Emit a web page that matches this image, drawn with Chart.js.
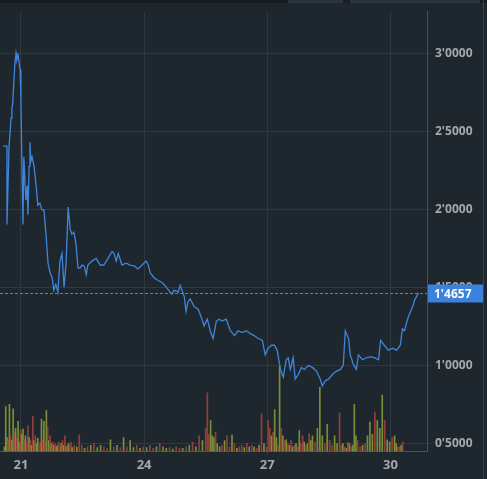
<!DOCTYPE html>
<html><head><meta charset="utf-8">
<script src="https://cdn.jsdelivr.net/npm/chart.js@4"></script>
<style>html,body{margin:0;padding:0;background:#1f272e;}#w{width:487px;height:479px;position:relative}</style>
</head><body><div id="w"><canvas id="c" width="487" height="479"></canvas></div>
<script>
const priceDays=[20.56,20.66,20.66,20.71,20.76,20.78,20.80,20.83,20.85,20.88,20.90,20.93,20.98,21.00,21.02,21.05,21.07,21.12,21.15,21.17,21.20,21.22,21.24,21.27,21.32,21.37,21.41,21.46,21.51,21.56,21.61,21.66,21.71,21.76,21.80,21.85,21.90,21.95,22.00,22.05,22.10,22.15,22.20,22.24,22.29,22.34,22.39,22.44,22.49,22.54,22.59,22.63,22.73,22.83,22.93,23.02,23.12,23.22,23.27,23.32,23.37,23.46,23.56,23.66,23.76,23.85,23.95,24.05,24.10,24.15,24.24,24.34,24.44,24.54,24.63,24.68,24.73,24.83,24.88,24.98,25.02,25.07,25.12,25.22,25.32,25.41,25.46,25.54,25.61,25.68,25.76,25.83,25.90,26.00,26.10,26.20,26.29,26.39,26.49,26.59,26.68,26.78,26.88,26.95,27.02,27.10,27.17,27.24,27.32,27.39,27.46,27.51,27.56,27.63,27.68,27.76,27.83,27.90,28.00,28.10,28.20,28.29,28.34,28.41,28.49,28.59,28.68,28.78,28.85,28.90,28.98,29.02,29.10,29.17,29.22,29.32,29.41,29.51,29.61,29.71,29.76,29.85,29.95,30.05,30.15,30.24,30.29,30.34,30.39,30.44,30.49,30.54,30.59,30.63,30.68];
const priceValues=[2.406,2.406,1.904,2.399,2.585,2.647,2.678,2.833,2.926,3.0,2.957,2.988,2.895,2.709,2.337,1.904,2.337,2.059,2.152,1.966,2.276,2.430,2.307,2.337,2.276,2.152,2.028,2.040,1.997,1.997,1.842,1.656,1.594,1.563,1.483,1.520,1.471,1.669,1.718,1.502,1.656,2.015,1.873,1.842,1.854,1.780,1.625,1.625,1.644,1.638,1.582,1.644,1.669,1.687,1.644,1.644,1.687,1.731,1.718,1.669,1.718,1.644,1.656,1.644,1.638,1.619,1.644,1.669,1.644,1.594,1.563,1.545,1.532,1.502,1.471,1.458,1.483,1.471,1.514,1.440,1.347,1.409,1.427,1.378,1.359,1.297,1.254,1.297,1.223,1.173,1.285,1.297,1.285,1.297,1.223,1.192,1.223,1.211,1.223,1.204,1.192,1.173,1.161,1.068,1.111,1.130,1.130,1.099,0.975,0.926,1.037,1.050,0.975,1.050,0.913,0.944,0.988,0.975,1.0,0.988,0.963,0.913,0.870,0.901,0.913,0.944,0.963,0.975,1.0,1.223,1.173,1.068,1.006,0.975,1.068,1.037,1.050,1.056,1.050,1.037,1.161,1.130,1.099,1.111,1.099,1.130,1.235,1.223,1.272,1.316,1.347,1.378,1.421,1.440,1.4657];
const volDays=[20.60,20.63,20.66,20.69,20.72,20.75,20.78,20.81,20.84,20.87,20.90,20.93,20.96,20.99,21.02,21.05,21.08,21.11,21.14,21.17,21.20,21.23,21.26,21.29,21.32,21.35,21.38,21.41,21.44,21.47,21.50,21.53,21.56,21.59,21.62,21.65,21.68,21.71,21.74,21.77,21.80,21.83,21.86,21.89,21.92,21.95,21.98,22.01,22.04,22.07,22.10,22.13,22.16,22.19,22.22,22.25,22.30,22.36,22.42,22.48,22.55,22.62,22.70,22.78,22.86,22.94,23.02,23.10,23.18,23.26,23.34,23.42,23.50,23.58,23.66,23.74,23.82,23.90,23.98,24.06,24.14,24.22,24.30,24.38,24.46,24.54,24.62,24.70,24.78,24.86,24.94,25.02,25.10,25.18,25.26,25.34,25.42,25.50,25.54,25.58,25.62,25.66,25.70,25.74,25.78,25.84,25.90,25.96,26.02,26.08,26.14,26.20,26.26,26.32,26.38,26.44,26.50,26.56,26.62,26.68,26.74,26.80,26.86,26.92,26.98,27.02,27.06,27.10,27.14,27.18,27.22,27.26,27.30,27.34,27.38,27.42,27.46,27.50,27.54,27.58,27.62,27.66,27.70,27.74,27.78,27.82,27.86,27.90,27.94,27.98,28.02,28.06,28.10,28.16,28.22,28.28,28.34,28.40,28.46,28.52,28.58,28.64,28.70,28.76,28.80,28.84,28.88,28.92,28.96,29.00,29.04,29.08,29.12,29.16,29.20,29.26,29.32,29.38,29.44,29.50,29.56,29.62,29.68,29.74,29.80,29.86,29.92,29.98,30.04,30.10,30.14,30.18,30.22,30.26,30.30,30.34,30.38,30.42,30.46,30.50,30.54,30.58,30.62,30.66];
const volValues=[6,58,18,14,61,20,14,55,24,30,18,39,12,28,22,29,15,20,12,33,18,15,8,45,14,20,10,17,8,12,42,16,39,12,53,32,14,20,10,12,8,10,6,8,12,6,10,14,8,20,6,8,10,6,12,5,8,6,21,8,4,6,8,10,5,8,6,4,15,6,8,5,18,6,14,5,8,4,6,5,8,4,6,10,6,4,5,3,6,4,4,6,8,12,6,20,14,30,76,22,40,20,18,25,10,6,8,14,20,6,21,10,4,6,8,5,10,6,8,6,4,8,49,10,6,40,30,20,25,54,18,8,110,30,20,14,15,10,8,14,6,8,10,6,27,10,20,12,8,10,23,14,20,12,30,83,20,10,35,14,8,20,10,50,8,10,6,4,12,10,6,8,61,20,14,6,8,10,20,38,22,51,40,30,73,40,15,12,18,20,10,6,6,8,12];
const volDir=[1,1,1,-1,1,-1,1,1,-1,1,-1,1,1,-1,1,1,-1,1,-1,-1,1,-1,1,-1,1,-1,1,1,-1,-1,1,-1,1,-1,1,-1,1,-1,1,-1,1,-1,1,1,-1,-1,1,-1,1,-1,1,-1,1,-1,-1,1,-1,1,-1,-1,1,-1,1,-1,1,1,-1,-1,1,-1,1,-1,1,-1,1,1,-1,1,-1,1,-1,-1,1,-1,1,1,-1,1,-1,-1,1,-1,1,-1,1,-1,1,-1,-1,-1,1,1,1,-1,1,1,-1,1,-1,-1,1,-1,1,-1,-1,1,-1,1,-1,1,-1,1,-1,1,-1,-1,-1,1,-1,1,1,-1,1,-1,1,-1,1,-1,1,-1,1,-1,1,-1,1,-1,-1,1,-1,1,-1,1,1,-1,1,1,1,-1,1,-1,-1,1,1,-1,-1,1,-1,1,-1,1,-1,1,1,1,-1,-1,1,-1,1,1,1,-1,1,1,1,-1,1,1,-1,1,1,-1,-1,1,-1,1,-1,1,1,1,-1,1];
const xTicks=[21,24,27,30];
const yTicks=[0.5,1.0,1.5,2.0,2.5,3.0];
const lastPrice=1.4657;
const fmt=v=>v.toFixed(4).replace('.',"'");

const tagPlugin={id:'tag',afterDatasetsDraw(ch){
  const {ctx,chartArea:a,scales:{y}}=ch;const py=Math.round(y.getPixelForValue(lastPrice))+0.5;
  ctx.save();ctx.strokeStyle='#3f86db';ctx.lineWidth=1;ctx.setLineDash([3,2]);
  ctx.beginPath();ctx.moveTo(a.left,py);ctx.lineTo(a.right,py);ctx.stroke();ctx.setLineDash([]);
  ctx.fillStyle='#3a82dc';ctx.fillRect(a.right+1,py-9,55,18);
  ctx.fillStyle='#ffffff';ctx.font='bold 12px "Open Sans"';ctx.textBaseline='middle';ctx.fillText(fmt(lastPrice),a.right+7,py+1);
  ctx.restore();
}};
const bgPlugin={id:'bg',beforeDraw(ch){const c=ch.ctx;c.save();c.fillStyle='#1f272e';c.fillRect(0,0,ch.width,ch.height);
  c.fillStyle='#161c21';c.fillRect(0,0,487,3);c.fillStyle='#2c353d';c.fillRect(288,0,55,3);c.fillRect(350,0,130,3);
  c.fillStyle='#3a434b';c.fillRect(483,0,1,479);c.restore();}};

new Chart(document.getElementById('c'),{
  data:{datasets:[
    {type:'line',data:priceDays.map((d,i)=>({x:d,y:priceValues[i]})),borderColor:'#3f86db',borderWidth:1.3,pointRadius:0,tension:0,yAxisID:'y',order:1},
    {type:'bar',data:volDays.map((d,i)=>({x:d,y:volValues[i]})),backgroundColor:volDir.map(s=>s>0?'#7a8f35':'#93403b'),barThickness:1,yAxisID:'v',order:2}
  ]},
  options:{responsive:false,animation:false,layout:{padding:{left:0,right:4,top:0,bottom:4}},
    plugins:{legend:{display:false},tooltip:{enabled:false}},
    scales:{
      x:{type:'linear',offset:false,min:20.49,max:30.89,afterBuildTicks:s=>{s.ticks=xTicks.map(v=>({value:v}))},
        grid:{color:'#2e3840',offset:false,drawTicks:true,tickLength:4},border:{color:'#4a535b'},
        ticks:{color:'#a3a9ae',font:{family:'Open Sans',size:13,weight:'bold'},padding:2,maxRotation:0,callback:v=>String(v)}},
      y:{position:'right',min:0.45,max:3.27,afterBuildTicks:s=>{s.ticks=yTicks.map(v=>({value:v}))},
        grid:{color:'#2e3840',tickLength:4},border:{color:'#4a535b'},
        ticks:{color:'#a3a9ae',font:{family:'Open Sans',size:12,weight:'bold'},padding:4,callback:v=>fmt(v)},
        afterFit:s=>{s.width=56}},
      v:{display:false,min:0,max:570}
    }},
  plugins:[bgPlugin,tagPlugin]
});
</script></body></html>
